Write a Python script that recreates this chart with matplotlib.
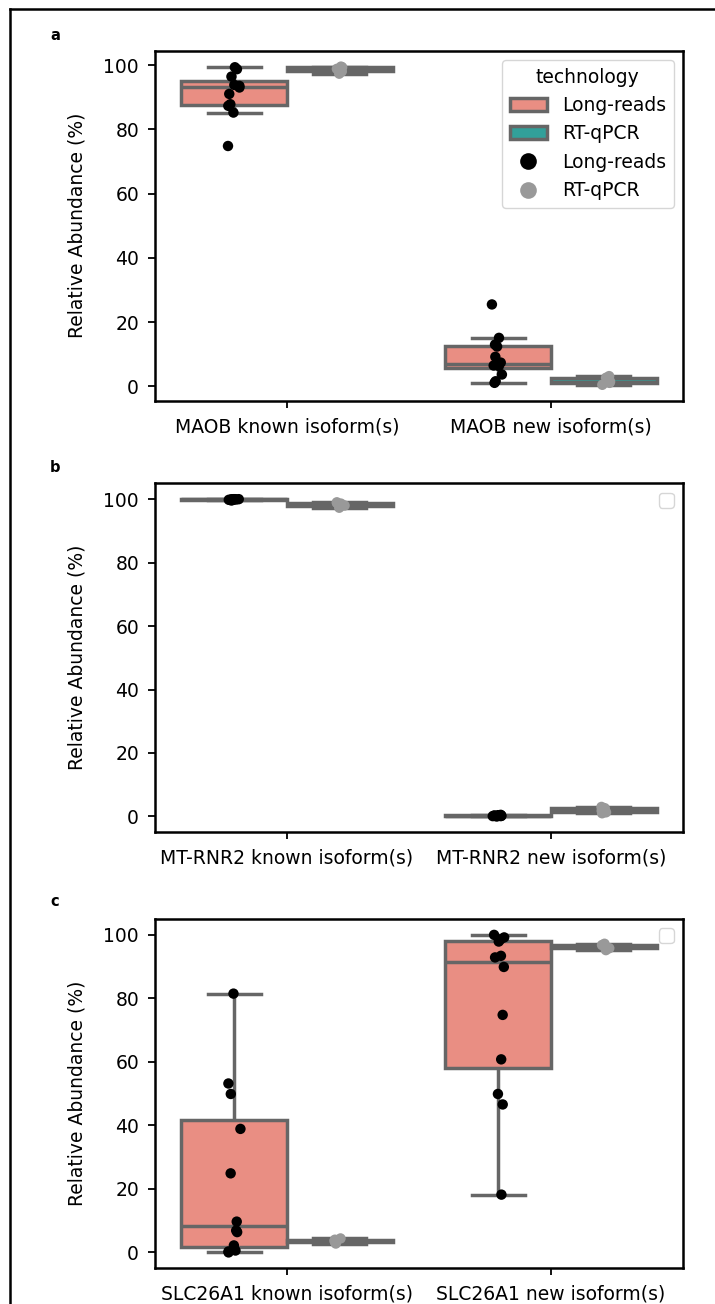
import numpy as np
import pandas as pd
import matplotlib
matplotlib.use("Agg")
import matplotlib.pyplot as plt
from matplotlib.lines import Line2D
import seaborn as sns

# ---------------- data ----------------
technologies = ["Long-reads", "RT-qPCR"]
panel_letters = ["a", "b", "c"]
genes = ["MAOB", "MT-RNR2", "SLC26A1"]

maob_known_lr = [99.3, 98.7, 96.4, 93.8, 93.5, 93.0, 91.0, 87.8, 87.3, 85.2, 74.8]
maob_known_qpcr = [97.3, 98.0, 98.8, 99.3, 99.5]
maob_new_lr = [25.5, 15.1, 13.0, 12.4, 9.2, 7.4, 6.8, 6.5, 6.3, 3.7, 1.6, 1.1]
maob_new_qpcr = [0.5, 1.1, 1.5, 2.7, 3.2]

mtrnr2_known_lr = [100.0, 99.9, 99.8, 99.9, 100.0, 99.7, 99.8, 99.9, 100.0, 99.6, 99.95]
mtrnr2_known_qpcr = [97.3, 98.0, 98.6, 98.8, 99.0]
mtrnr2_new_lr = [0.1, 0.2, 0.3, 0.2, 0.1, 0.4, 0.0, 0.3, 0.2, 0.1, 0.5]
mtrnr2_new_qpcr = [1.0, 1.3, 1.8, 2.6, 3.0]

slc_known_lr = [81.5, 53.2, 49.9, 38.9, 24.9, 9.7, 6.9, 6.4, 2.2, 0.6, 0.3, 0.0]
slc_known_qpcr = [2.8, 3.2, 3.6, 4.0, 4.4]
slc_new_lr = [100.0, 99.2, 98.6, 97.9, 93.4, 92.9, 89.9, 74.8, 60.8, 49.9, 46.6, 18.2]
slc_new_qpcr = [95.2, 95.8, 96.3, 96.8, 97.2]

panel_data = [
    (maob_known_lr, maob_known_qpcr, maob_new_lr, maob_new_qpcr),
    (mtrnr2_known_lr, mtrnr2_known_qpcr, mtrnr2_new_lr, mtrnr2_new_qpcr),
    (slc_known_lr, slc_known_qpcr, slc_new_lr, slc_new_qpcr),
]

box_palette = {"Long-reads": "salmon", "RT-qPCR": "lightseagreen"}
point_palette = {"Long-reads": "black", "RT-qPCR": "#999999"}


def make_df(gene, vals):
    kl, kq, nl, nq = vals
    rows = []
    for cat, tech, arr in [
        (f"{gene} known isoform(s)", "Long-reads", kl),
        (f"{gene} known isoform(s)", "RT-qPCR", kq),
        (f"{gene} new isoform(s)", "Long-reads", nl),
        (f"{gene} new isoform(s)", "RT-qPCR", nq),
    ]:
        for v in arr:
            rows.append({"isoform": cat, "technology": tech, "value": v})
    return pd.DataFrame(rows)


FS = 13.5
W, H = 715, 1304
plt.rcParams["font.family"] = ["DejaVu Sans"]
fig = plt.figure(figsize=(W / 100, H / 100), dpi=100)

left_px, right_px = 155, 683
panel_px = [(50.7, 400.7), (483.3, 832.3), (919, 1268.3)]
label_y = [35, 467, 901]

np.random.seed(3)
for i, (gene, vals) in enumerate(zip(genes, panel_data)):
    top, bot = panel_px[i]
    ax = fig.add_axes([left_px / W, 1 - bot / H, (right_px - left_px) / W, (bot - top) / H])
    df = make_df(gene, vals)
    order = [f"{gene} known isoform(s)", f"{gene} new isoform(s)"]
    kw = dict(data=df, x="isoform", y="value", hue="technology", order=order,
              hue_order=technologies, palette=box_palette, linewidth=2.5,
              showfliers=False, ax=ax)
    try:
        sns.boxplot(linecolor="#666666", **kw)
    except TypeError:
        sns.boxplot(**kw)
    sns.stripplot(data=df, x="isoform", y="value", hue="technology", order=order,
                  hue_order=technologies, palette=point_palette, dodge=True,
                  jitter=0.05, size=7.5, ax=ax)
    ax.set_xlabel("")
    ax.set_ylabel("Relative Abundance (%)", fontsize=FS, labelpad=12)
    ax.set_xlim(-0.5, 1.5)
    ax.set_yticks([0, 20, 40, 60, 80, 100])
    ax.tick_params(axis="y", labelsize=FS, length=5, width=1.3, pad=6.5)
    ax.tick_params(axis="x", labelsize=FS, length=5, width=1.3, pad=7)
    for s in ax.spines.values():
        s.set_linewidth(1.8)
    if i == 0:
        h, l = ax.get_legend_handles_labels()
        ax.legend(h, l, title="technology", loc="upper right", fontsize=FS,
                  title_fontsize=FS, markerscale=1.6)
    else:
        ax.legend([], [], loc="upper right", fontsize=FS)
    fig.text(55 / W, 1 - label_y[i] / H, panel_letters[i], fontsize=10.5,
             fontweight="bold", ha="center", va="center")

# outer frame (top and left edges)
fig.add_artist(Line2D([10 / W, 1.0], [1 - 9 / H, 1 - 9 / H], color="black", lw=1.8,
                      transform=fig.transFigure))
fig.add_artist(Line2D([10 / W, 10 / W], [1 - 9 / H, 0.0], color="black", lw=1.8,
                      transform=fig.transFigure))

fig.savefig("out.png", dpi=100)
